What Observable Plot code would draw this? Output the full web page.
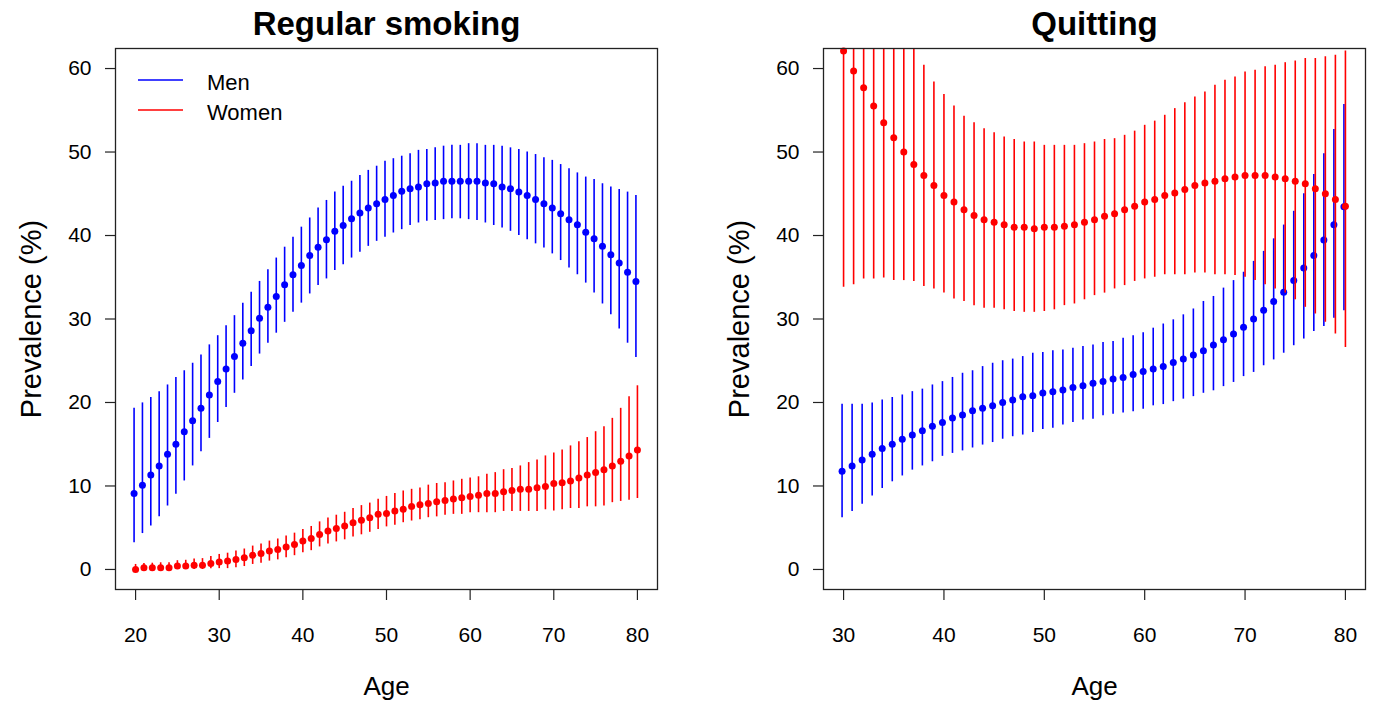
<!DOCTYPE html>
<html><head><meta charset="utf-8">
<script src="https://cdn.jsdelivr.net/npm/d3@7"></script>
<script src="https://cdn.jsdelivr.net/npm/@observablehq/plot@0.6"></script>
<style>
body{margin:0;background:#fff;font-family:"Liberation Sans",Arial,sans-serif;}
#wrap{position:relative;width:1374px;height:705px;overflow:hidden;}
#left,#right{position:absolute;top:0;}
#left{left:0;} #right{left:687px;}
#legend{position:absolute;left:0;top:0;}
</style></head><body>
<div id="wrap"><div id="left"></div><div id="right"></div>
<svg id="legend" width="400" height="140" font-family="Liberation Sans, Arial, sans-serif">
  <line x1="138" x2="183" y1="80" y2="80" stroke="#0000ff" stroke-width="1.5"/>
  <line x1="138" x2="183" y1="110" y2="110" stroke="#ff0000" stroke-width="1.5"/>
  <text x="207" y="90" font-size="22" fill="#000">Men</text>
  <text x="207" y="120" font-size="22" fill="#000">Women</text>
</svg></div>
<script>
// ---------- Panel 1: Regular smoking (ages 20-80) ----------
const ages1 = [20,21,22,23,24,25,26,27,28,29,30,31,32,33,34,35,36,37,38,39,40,41,42,43,44,45,46,47,48,49,50,51,52,53,54,55,56,57,58,59,60,61,62,63,64,65,66,67,68,69,70,71,72,73,74,75,76,77,78,79,80];
const smokeMenEst = [9.1,10.1,11.3,12.4,13.8,15.0,16.5,17.8,19.3,20.9, 22.5,24.0,25.5,27.1,28.6,30.1,31.4,32.7,34.1,35.3, 36.4,37.6,38.6,39.5,40.5,41.2,42.0,42.7,43.3,43.8, 44.3,44.8,45.3,45.6,45.8,46.2,46.3,46.5,46.5,46.5, 46.5,46.5,46.3,46.2,45.8,45.6,45.2,44.8,44.3,43.8, 43.3,42.6,41.9,41.3,40.4,39.6,38.7,37.7,36.7,35.6,34.5];
const smokeMenHi = [19.3,19.95,20.6,21.3,22.1,23.0,23.8,24.7,25.7,26.9, 28.0,29.2,30.4,31.9,33.2,34.5,35.9,37.3,38.6,39.8, 41.0,42.1,43.3,44.2,45.2,45.9,46.5,47.2,47.8,48.3, 48.9,49.2,49.5,49.8,50.2,50.3,50.5,50.7,50.8,50.8, 51.0,51.0,50.8,50.8,50.7,50.5,50.3,50.0,49.7,49.3, 49.0,48.5,48.0,47.5,47.0,46.7,46.2,45.8,45.5,45.2,44.8];
const smokeMenLo = [3.2,4.3,5.2,6.3,7.6,9.0,10.6,12.4,14.1,15.7, 17.6,19.4,21.1,22.7,24.3,25.8,27.1,28.3,29.6,30.8, 31.9,33.0,34.0,34.8,35.8,36.5,37.3,38.0,38.7,39.3, 39.8,40.3,40.7,41.2,41.5,41.7,41.8,41.9,42.0,42.0, 41.9,41.8,41.5,41.2,40.9,40.5,40.0,39.5,39.0,38.5, 37.8,37.0,36.1,35.3,34.3,33.1,31.8,30.5,28.8,27.1,25.4];
const smokeWomenEst = [0.0,0.2,0.2,0.2,0.2,0.4,0.4,0.5,0.5,0.7, 0.9,1.0,1.2,1.4,1.7,1.9,2.2,2.4,2.7,3.0, 3.4,3.7,4.2,4.6,4.9,5.2,5.6,5.9,6.2,6.6, 6.7,7.0,7.2,7.55,7.75,7.9,8.1,8.25,8.45,8.6, 8.75,8.9,9.1,9.1,9.3,9.45,9.6,9.6,9.8,9.95, 10.3,10.4,10.6,10.95,11.3,11.6,11.95,12.4,12.95,13.6,14.3];
const smokeWomenHi = [0.6,0.7,0.75,0.8,0.8,1.05,1.1,1.25,1.3,1.55, 1.8,1.95,2.2,2.45,2.8,3.05,3.4,3.65,4.0,4.35, 4.8,5.15,5.7,6.15,6.5,6.85,7.3,7.65,7.95,8.4, 8.75,9.1,9.4,9.6,9.75,10.1,10.3,10.4,10.6,10.8, 10.95,11.1,11.4,11.6,11.95,12.1,12.4,12.8,13.1,13.6, 13.95,14.3,14.8,15.3,15.8,16.5,17.1,18.1,19.3,20.7,22.0];
const smokeWomenLo = [0.0,0.0,0.0,0.0,0.0,0.0,0.0,0.0,0.0,0.1, 0.1,0.1,0.2,0.35,0.6,0.75,1.0,1.15,1.4,1.65, 2.0,2.25,2.7,3.05,3.3,3.55,3.9,4.15,4.45,4.8, 5.1,5.3,5.6,5.8,5.95,6.2,6.3,6.5,6.6,6.6, 6.8,6.8,6.8,6.8,6.95,6.95,6.95,6.95,6.95,7.15, 7.0,7.15,7.3,7.3,7.5,7.5,7.6,8.0,8.15,8.3,8.5];

// ---------- Panel 2: Quitting (ages 30-80) ----------
const ages2 = [30,31,32,33,34,35,36,37,38,39,40,41,42,43,44,45,46,47,48,49,50,51,52,53,54,55,56,57,58,59,60,61,62,63,64,65,66,67,68,69,70,71,72,73,74,75,76,77,78,79,80];
const quitMenEst = [11.75,12.4,13.1,13.8,14.5,15.0,15.6,16.1,16.6,17.15, 17.6,18.15,18.5,19.0,19.3,19.6,20.0,20.3,20.7,20.8, 21.15,21.3,21.5,21.8,22.0,22.3,22.5,22.8,23.0,23.35, 23.7,24.0,24.3,24.8,25.2,25.7,26.2,26.9,27.5,28.2, 29.0,30.0,31.05,32.1,33.2,34.6,36.1,37.6,39.45,41.3,43.45];
const quitMenHi = [19.8,19.8,19.8,19.95,20.3,20.6,20.9,21.3,21.6,22.1, 22.5,23.0,23.5,23.8,24.3,24.7,25.0,25.2,25.5,25.9, 26.0,26.2,26.3,26.5,26.7,26.9,27.2,27.3,27.7,28.0, 28.35,28.9,29.4,29.9,30.5,31.2,32.1,32.7,33.7,34.6, 35.6,36.9,38.1,39.6,41.25,42.9,45.0,47.3,49.8,52.7,55.7];
const quitMenLo = [6.2,6.95,7.8,8.8,9.7,10.5,11.2,11.9,12.4,12.9, 13.55,13.9,14.2,14.55,14.9,15.2,15.6,15.9,16.1,16.4, 16.75,16.9,17.3,17.6,17.9,18.0,18.4,18.6,18.75,18.9, 19.2,19.6,19.75,20.1,20.4,20.7,21.1,21.4,21.9,22.4, 23.1,23.6,24.4,25.1,25.9,26.8,27.6,28.5,29.1,30.1,31.0];
const quitWomenEst = [62.1,59.7,57.7,55.5,53.5,51.7,50.0,48.5,47.2,46.0, 44.8,44.0,43.1,42.4,41.9,41.6,41.3,41.0,41.0,40.8, 41.0,41.0,41.1,41.3,41.6,41.9,42.3,42.6,43.1,43.5, 44.0,44.3,44.8,45.1,45.5,46.0,46.3,46.5,46.8,47.0, 47.2,47.2,47.2,47.0,46.8,46.5,46.2,45.6,45.0,44.3,43.5];
const quitWomenHi = [95,88,82,77,72,68,65,63,60.4,58.4, 56.9,55.5,54.3,53.5,52.8,52.3,51.8,51.5,51.2,51.2, 50.8,50.8,50.8,50.8,51.0,51.2,51.5,51.6,52.0,52.5, 53.2,53.7,54.4,55.2,55.9,56.6,57.2,58.0,58.6,59.0, 59.6,59.8,60.2,60.4,60.7,60.9,61.2,61.2,61.4,61.6,62.1];
const quitWomenLo = [33.8,34.1,34.8,34.8,34.9,34.6,34.6,34.5,33.9,33.6, 33.1,32.4,32.1,31.6,31.3,31.3,31.1,30.9,30.8,30.8, 30.9,31.1,31.6,31.8,32.3,32.8,33.1,33.6,34.0,34.5, 34.8,35.0,35.3,35.3,35.3,35.5,35.5,35.3,35.3,35.2, 35.0,34.6,34.1,33.6,33.1,32.3,31.4,30.6,29.6,28.2,26.6];

const yTicks = [0,10,20,30,40,50,60];
const xTicks1 = [20,30,40,50,60,70,80];
const xTicks2 = [30,40,50,60,70,80];

const BLUE = "#0000ff", RED = "#ff0000";
const FONT = "Liberation Sans, Arial, Helvetica, sans-serif";

function rows(ages, est, lo, hi) {
  return ages.map((a, i) => ({age: a, est: est[i], lo: lo[i], hi: hi[i]}));
}

function panel({ages, menEst, menLo, menHi, womenEst, womenLo, womenHi, title, xDomain, xTicks, marginLeft, marginRight}) {
  const m = rows(ages, menEst, menLo, menHi);
  const w = rows(ages, womenEst, womenLo, womenHi);
  return Plot.plot({
    width: 687, height: 705,
    marginLeft, marginRight, marginTop: 48, marginBottom: 116,
    style: {fontFamily: FONT, color: "#000", background: "#fff", overflow: "visible"},
    x: {domain: xDomain},
    y: {domain: [-2.4, 62.4]},
    marks: [
      Plot.ruleX(m, {x: "age", y1: "lo", y2: "hi", stroke: BLUE, strokeWidth: 1.6, dx: -1.5, clip: true}),
      Plot.dot(m, {x: "age", y: "est", r: 3.5, fill: BLUE, dx: -1.5}),
      Plot.ruleX(w, {x: "age", y1: "lo", y2: "hi", stroke: RED, strokeWidth: 1.6, clip: true}),
      Plot.dot(w, {x: "age", y: "est", r: 3.5, fill: RED}),
      Plot.frame({stroke: "#222", strokeWidth: 1.3}),
      Plot.axisX({ticks: xTicks, tickSize: 11, tickPadding: 27, fontSize: 21, label: null, stroke: "#222", strokeWidth: 1.2}),
      Plot.axisY({ticks: yTicks, tickSize: 10, tickPadding: 14, fontSize: 21, label: null, stroke: "#222", strokeWidth: 1.2}),
      Plot.text([title], {text: d => d, frameAnchor: "top", dy: -24, fontSize: 33, fontWeight: "bold", lineAnchor: "middle", fill: "#000"}),
      Plot.text(["Age"], {text: d => d, frameAnchor: "bottom", dy: 97, fontSize: 26, lineAnchor: "middle", fill: "#000"}),
      Plot.text(["Prevalence (%)"], {text: d => d, frameAnchor: "left", dx: -84, rotate: -90, fontSize: 29, textAnchor: "middle", lineAnchor: "middle", fill: "#000"})
    ]
  });
}

document.getElementById("left").append(panel({
  ages: ages1, menEst: smokeMenEst, menLo: smokeMenLo, menHi: smokeMenHi,
  womenEst: smokeWomenEst, womenLo: smokeWomenLo, womenHi: smokeWomenHi,
  title: "Regular smoking", xDomain: [17.6, 82.4], xTicks: xTicks1,
  marginLeft: 115, marginRight: 30
}));
document.getElementById("right").append(panel({
  ages: ages2, menEst: quitMenEst, menLo: quitMenLo, menHi: quitMenHi,
  womenEst: quitWomenEst, womenLo: quitWomenLo, womenHi: quitWomenHi,
  title: "Quitting", xDomain: [28, 82], xTicks: xTicks2,
  marginLeft: 136, marginRight: 9
}));
</script>
</body></html>
